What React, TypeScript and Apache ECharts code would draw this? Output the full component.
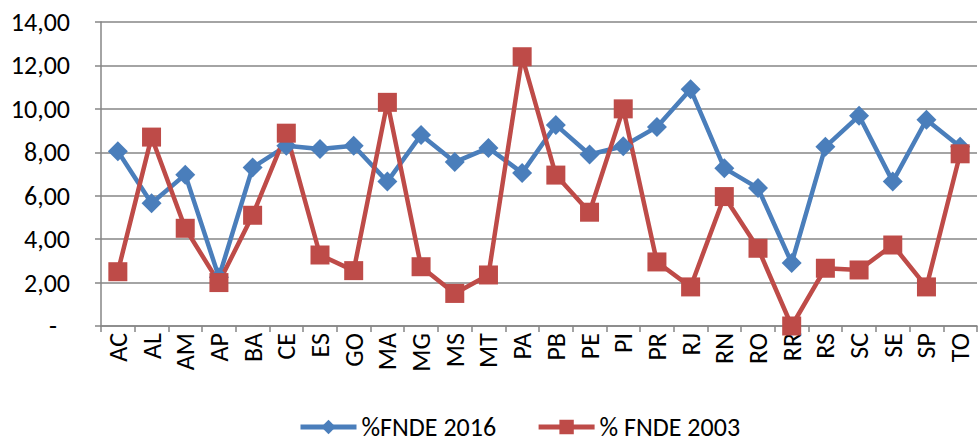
import React, { useEffect, useRef } from "react";
import * as echarts from "echarts";

const categories = ["AC","AL","AM","AP","BA","CE","ES","GO","MA","MG","MS","MT","PA","PB","PE","PI","PR","RJ","RN","RO","RR","RS","SC","SE","SP","TO"];
const fnde2016 = [8.05,5.65,6.97,2.25,7.3,8.3,8.15,8.3,6.65,8.8,7.55,8.2,7.05,9.26,7.9,8.28,9.17,10.9,7.27,6.35,2.9,8.25,9.68,6.65,9.5,8.25];
const fnde2003 = [2.5,8.7,4.5,2.0,5.1,8.88,3.27,2.55,10.3,2.73,1.5,2.35,12.4,6.95,5.24,10.0,2.95,1.8,5.96,3.58,0.0,2.66,2.58,3.73,1.8,7.93];
const yTicks = { min: 0, max: 14, interval: 2 };

export default function App() {
  const ref = useRef<HTMLDivElement>(null);
  useEffect(() => {
    const chart = echarts.init(ref.current!, null, { renderer: "svg" });
    const font = "Carlito, 'Open Sans', sans-serif";
    chart.setOption({
      animation: false,
      grid: { left: 101, top: 22, right: 1, bottom: 117 },
      legend: {
        top: 413,
        left: 298,
        padding: 0,
        itemWidth: 56,
        itemHeight: 18,
        itemGap: 40,
        lineStyle: { width: 5 },
        textStyle: { fontSize: 26, color: "#000", fontFamily: font, lineHeight: 28 },
        data: ["%FNDE 2016", "% FNDE 2003"],
      },
      xAxis: {
        type: "category",
        data: categories,
        boundaryGap: true,
        axisLine: { lineStyle: { color: "#868686", width: 1.5 } },
        axisTick: { show: true, length: 6, alignWithLabel: false, lineStyle: { color: "#868686", width: 1.5 } },
        axisLabel: { rotate: 90, fontSize: 26, color: "#000", fontFamily: font, margin: 7, interval: 0 },
        splitLine: { show: false },
      },
      yAxis: {
        type: "value",
        min: yTicks.min,
        max: yTicks.max,
        interval: yTicks.interval,
        axisLine: { show: true, lineStyle: { color: "#868686", width: 1.5 } },
        axisTick: { show: true, length: 6, lineStyle: { color: "#868686", width: 1.5 } },
        splitLine: { lineStyle: { color: "#868686", width: 1.5 } },
        axisLabel: {
          fontSize: 26,
          color: "#000",
          fontFamily: font,
          margin: 31,
          formatter: (v: number) => (v === 0 ? "{d|-}" : v.toFixed(2).replace(".", ",")),
          rich: { d: { fontSize: 26, color: "#000", fontFamily: font, padding: [0, 13, 0, 0] } },
        },
      },
      series: [
        {
          name: "%FNDE 2016",
          type: "line",
          data: fnde2016,
          symbol: "diamond",
          symbolSize: 20,
          lineStyle: { color: "#4A7EBB", width: 4.5 },
          itemStyle: { color: "#4A7EBB" },
        },
        {
          name: "% FNDE 2003",
          type: "line",
          data: fnde2003,
          symbol: "rect",
          symbolSize: 19,
          lineStyle: { color: "#BE4B48", width: 4.5 },
          itemStyle: { color: "#BE4B48" },
        },
      ],
    });
    return () => chart.dispose();
  }, []);
  return <div ref={ref} style={{ width: 978, height: 443, position: "absolute", left: 0, top: 0 }} />;
}
